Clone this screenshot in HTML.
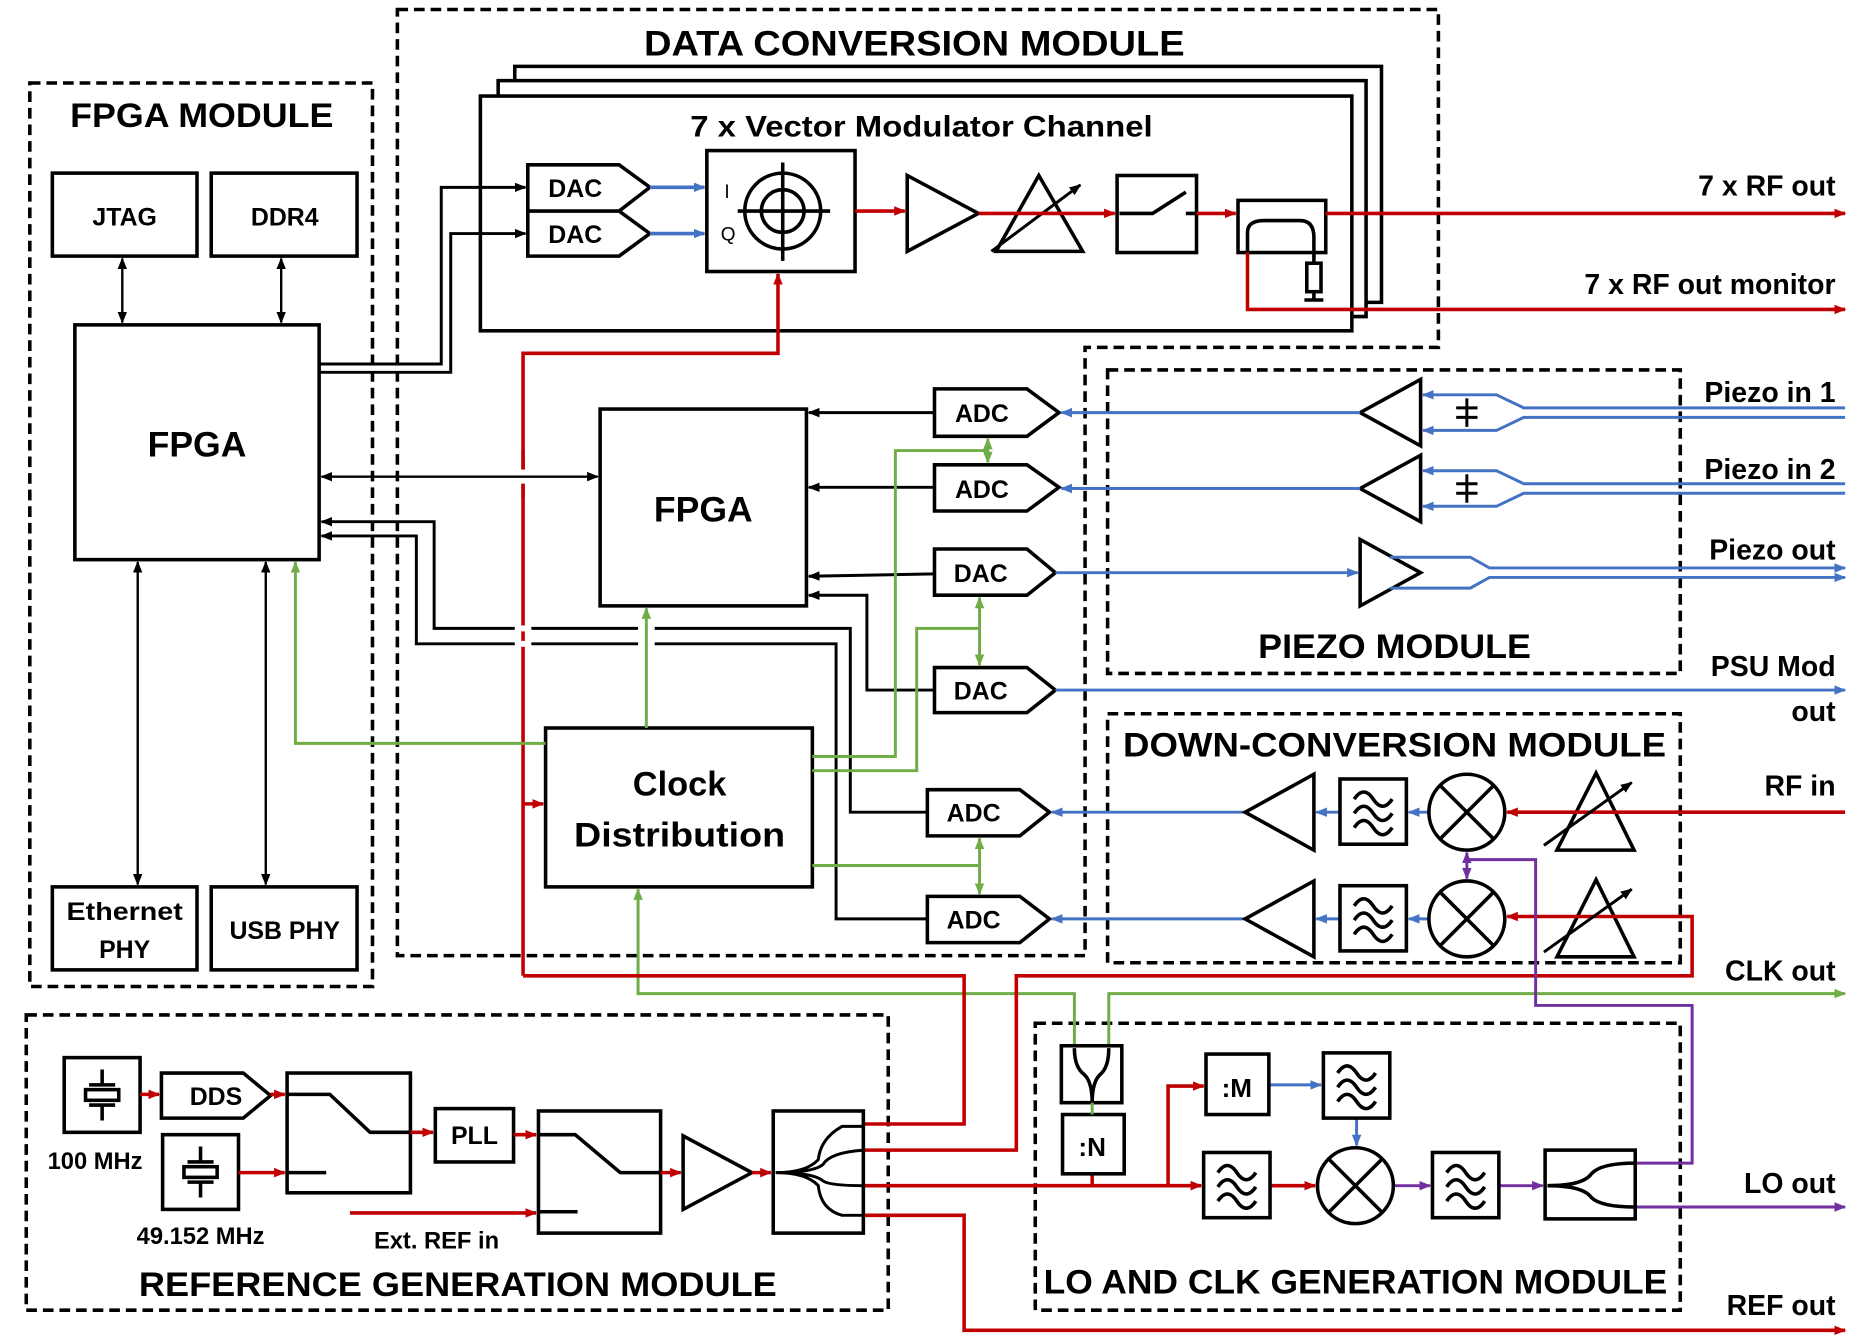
<!DOCTYPE html>
<html><head><meta charset="utf-8"><style>
html,body{margin:0;padding:0;background:#fff}
svg{display:block}
text{font-family:"Liberation Sans",sans-serif;font-weight:bold;fill:#000}
</style></head><body>
<svg width="1850" height="1341" viewBox="0 0 1560 1131" xmlns="http://www.w3.org/2000/svg">
<defs>
<marker id="ak" markerWidth="10" markerHeight="10" refX="9" refY="5" orient="auto-start-reverse" markerUnits="userSpaceOnUse"><path d="M0,1 L10,5 L0,9 z" fill="#000"/></marker>
<marker id="ar" markerWidth="10" markerHeight="10" refX="9" refY="5" orient="auto-start-reverse" markerUnits="userSpaceOnUse"><path d="M0,1 L10,5 L0,9 z" fill="#c00000"/></marker>
<marker id="ab" markerWidth="10" markerHeight="10" refX="9" refY="5" orient="auto-start-reverse" markerUnits="userSpaceOnUse"><path d="M0,1 L10,5 L0,9 z" fill="#4472c4"/></marker>
<marker id="ag" markerWidth="10" markerHeight="10" refX="9" refY="5" orient="auto-start-reverse" markerUnits="userSpaceOnUse"><path d="M0,1 L10,5 L0,9 z" fill="#70ad47"/></marker>
<marker id="ap" markerWidth="10" markerHeight="10" refX="9" refY="5" orient="auto-start-reverse" markerUnits="userSpaceOnUse"><path d="M0,1 L10,5 L0,9 z" fill="#7030a0"/></marker>
<g id="filt"><rect x="0" y="0" width="56" height="55" fill="#fff" stroke="#000" stroke-width="3"/>
<path d="M12,17 q8,-12 16,0 t16,0 M12,29 q8,-12 16,0 t16,0 M12,41 q8,-12 16,0 t16,0" fill="none" stroke="#000" stroke-width="3"/></g>
<g id="mix"><circle cx="0" cy="0" r="32" fill="#fff" stroke="#000" stroke-width="3"/><path d="M-22,-22 L22,22 M22,-22 L-22,22" stroke="#000" stroke-width="3"/></g>
<g id="xtal"><rect x="0" y="0" width="64" height="63" fill="#fff" stroke="#000" stroke-width="3"/><path d="M32,10 v13 M21,23 h22 M32,53 v-13 M21,40 h22" stroke="#000" stroke-width="3"/><rect x="18" y="27" width="28" height="9" fill="none" stroke="#000" stroke-width="3"/></g>
</defs>

<g fill="none" stroke-width="3">
<g stroke="#000" stroke-dasharray="9,5">
<rect x="25" y="70" width="289" height="762"/>
<path d="M335,8 H1213 V293 H915 V806 H335 Z"/>
<rect x="934" y="312" width="483" height="256"/>
<rect x="934" y="602" width="483" height="210"/>
<rect x="22" y="856" width="727" height="249"/>
<rect x="873" y="863" width="544" height="242"/>
</g>

<g stroke="#000">
<rect x="44" y="146" width="122" height="70"/>
<rect x="178" y="146" width="123" height="70"/>
<rect x="63" y="274" width="206" height="198"/>
<rect x="44" y="748" width="122" height="70"/>
<rect x="178" y="748" width="123" height="70"/>
<line x1="103" y1="218" x2="103" y2="272" marker-start="url(#ak)" marker-end="url(#ak)" stroke-width="2"/>
<line x1="237" y1="218" x2="237" y2="272" marker-start="url(#ak)" marker-end="url(#ak)" stroke-width="2"/>
<line x1="116" y1="474" x2="116" y2="746" marker-start="url(#ak)" marker-end="url(#ak)" stroke-width="2"/>
<line x1="224" y1="474" x2="224" y2="746" marker-start="url(#ak)" marker-end="url(#ak)" stroke-width="2"/>
</g>

<g stroke="#000">
<path d="M434,68 V56 H1165 V255 H1152"/>
<path d="M420,81 V68 H1152 V267 H1140"/>
<rect x="405" y="81" width="735" height="198" fill="#fff"/>
<path d="M445,139 H522 L548,158 L522,178 H445 Z M445,178 H522 L548,197 L522,216 H445 Z" fill="#fff"/>
<rect x="596" y="127" width="125" height="102"/>
<circle cx="660" cy="178" r="32"/><circle cx="660" cy="178" r="18"/>
<path d="M622,178 H700 M660,137 V220"/>
<path d="M765,148 V212 L825,180 Z"/>
<path d="M840,212 H913 L876,148 Z"/>
<line x1="836" y1="212" x2="911" y2="156" marker-end="url(#ak)" stroke-width="2.5"/>
<rect x="942" y="148" width="67" height="65"/>
<path d="M944,180 H972 L1000,162 M1000,180 H1009" />
<rect x="1044" y="169" width="74" height="44"/>
<path d="M1052,213 V196 Q1052,186 1066,186 H1096 Q1108,186 1108,200 V222"/>
<rect x="1102" y="222" width="12" height="24"/>
<path d="M1108,246 V252 M1100,253 H1116"/>
<path d="M269,307 H372 V158 H443" marker-end="url(#ak)" stroke-width="2.5"/>
<path d="M269,314 H380 V197 H443" marker-end="url(#ak)" stroke-width="2.5"/>
</g>
<g stroke="#4472c4"><line x1="548" y1="158" x2="594" y2="158" marker-end="url(#ab)"/><line x1="548" y1="197" x2="594" y2="197" marker-end="url(#ab)"/></g>
<g stroke="#c00000">
<line x1="721" y1="178" x2="763" y2="178" marker-end="url(#ar)"/>
<line x1="825" y1="180" x2="940" y2="180" marker-end="url(#ar)"/>
<line x1="1009" y1="180" x2="1042" y2="180" marker-end="url(#ar)"/>
<line x1="1118" y1="180" x2="1556" y2="180" marker-end="url(#ar)"/>
<path d="M1052,213 V261 H1556" marker-end="url(#ar)"/>
<path d="M441,823 V298 H656 V231" marker-end="url(#ar)"/>
<line x1="441" y1="678" x2="458" y2="678" marker-end="url(#ar)"/>
</g>

<g stroke="#000">
<rect x="506" y="345" width="174" height="166"/>
<rect x="460" y="614" width="225" height="134" fill="#fff"/>
<path d="M788,328 H866 L893,348 L866,368 H788 Z"/>
<path d="M788,392 H866 L893,411 L866,431 H788 Z"/>
<path d="M788,463 H866 L890,483 L866,502 H788 Z"/>
<path d="M788,563 H866 L890,582 L866,601 H788 Z"/>
<path d="M782,666 H860 L885,685 L860,705 H782 Z"/>
<path d="M782,756 H860 L885,775 L860,795 H782 Z"/>
<g stroke-width="2.5">
<line x1="788" y1="348" x2="682" y2="348" marker-end="url(#ak)"/>
<line x1="788" y1="411" x2="682" y2="411" marker-end="url(#ak)"/>
<line x1="788" y1="484" x2="682" y2="486" marker-end="url(#ak)"/>
<path d="M788,582 H731 V502 H682" marker-end="url(#ak)"/>
<path d="M782,685 H717 V530 H366 V440 H271" marker-end="url(#ak)"/>
<path d="M782,775 H705 V543 H351 V452 H271" marker-end="url(#ak)"/>
</g>
</g>
<g stroke="#fff" stroke-width="5">
<line x1="434" y1="530" x2="448" y2="530"/><line x1="434" y1="543" x2="448" y2="543"/>
<line x1="538" y1="530" x2="552" y2="530"/><line x1="538" y1="543" x2="552" y2="543"/>
<line x1="441" y1="396" x2="441" y2="408"/>
</g>
<line x1="441" y1="380" x2="441" y2="396" stroke="#c00000"/>
<line x1="441" y1="408" x2="441" y2="420" stroke="#c00000"/>
<line x1="271" y1="402" x2="504" y2="402" stroke="#000" marker-start="url(#ak)" marker-end="url(#ak)" stroke-width="2"/>

<g stroke="#70ad47" stroke-width="2.5">
<line x1="545" y1="614" x2="545" y2="513" marker-end="url(#ag)"/>
<path d="M460,627 H249 V474" marker-end="url(#ag)"/>
<path d="M685,638 H755 V380 H833"/>
<line x1="833" y1="370" x2="833" y2="390" marker-start="url(#ag)" marker-end="url(#ag)"/>
<path d="M685,650 H773 V530 H826"/>
<line x1="826" y1="504" x2="826" y2="561" marker-start="url(#ag)" marker-end="url(#ag)"/>
<path d="M685,730 H826"/>
<line x1="826" y1="707" x2="826" y2="754" marker-start="url(#ag)" marker-end="url(#ag)"/>
<path d="M538,750 V838 H906 V882" marker-start="url(#ag)"/>
<path d="M935,882 V838 H1556" marker-end="url(#ag)"/>
</g>

<g stroke="#000">
<path d="M1198,320 V376 L1147,348 Z"/>
<path d="M1198,384 V440 L1147,412 Z"/>
<path d="M1147,455 V511 L1198,483 Z"/>
<path d="M1237,336 V360 M1228,344 H1246 M1228,352 H1246 M1237,400 V424 M1228,408 H1246 M1228,416 H1246" stroke-width="2.5"/>
</g>
<g stroke="#4472c4" stroke-width="2.5">
<path d="M1556,344 H1285 L1262,333 H1200" marker-end="url(#ab)"/>
<path d="M1556,352 H1285 L1262,363 H1200" marker-end="url(#ab)"/>
<path d="M1556,408 H1285 L1262,397 H1200" marker-end="url(#ab)"/>
<path d="M1556,416 H1285 L1262,427 H1200" marker-end="url(#ab)"/>
<line x1="1147" y1="348" x2="895" y2="348" marker-end="url(#ab)"/>
<line x1="1147" y1="412" x2="895" y2="412" marker-end="url(#ab)"/>
<line x1="890" y1="483" x2="1145" y2="483" marker-end="url(#ab)"/>
<path d="M1172,470 H1240 L1256,479 H1556" marker-end="url(#ab)"/>
<path d="M1172,496 H1240 L1256,487 H1556" marker-end="url(#ab)"/>
<line x1="890" y1="582" x2="1556" y2="582" marker-end="url(#ab)"/>
<line x1="1050" y1="685" x2="887" y2="685" marker-end="url(#ab)"/>
<line x1="1050" y1="775" x2="887" y2="775" marker-end="url(#ab)"/>
<line x1="1130" y1="685" x2="1110" y2="685" marker-end="url(#ab)"/>
<line x1="1205" y1="685" x2="1188" y2="685" marker-end="url(#ab)"/>
<line x1="1130" y1="775" x2="1110" y2="775" marker-end="url(#ab)"/>
<line x1="1205" y1="775" x2="1188" y2="775" marker-end="url(#ab)"/>
<line x1="1070" y1="915" x2="1114" y2="915" marker-end="url(#ab)"/>
<line x1="1144" y1="943" x2="1144" y2="966" marker-end="url(#ab)"/>
</g>

<g stroke="#000">
<path d="M1108,653 V717 L1050,685 Z"/>
<path d="M1108,743 V807 L1050,775 Z"/>
<path d="M1313,717 H1378 L1346,652 Z"/>
<path d="M1313,807 H1378 L1346,742 Z"/>
</g>
<use href="#filt" x="1130" y="657"/><use href="#filt" x="1130" y="747"/>
<use href="#mix" x="1237" y="685"/><use href="#mix" x="1237" y="775"/>
<g stroke="#c00000">
<line x1="1556" y1="685" x2="1271" y2="685" marker-end="url(#ar)"/>
<path d="M441,823 H813 V948 H728"/>
<path d="M728,970 H857 V823 H1427 V773 H1271" marker-end="url(#ar)"/>
<path d="M728,1000 H1013" marker-end="url(#ar)"/>
<path d="M985,1000 V916 H1015" marker-end="url(#ar)"/>
<path d="M921,990 V1000"/>
<line x1="1072" y1="1000" x2="1109" y2="1000" marker-end="url(#ar)"/>
<path d="M728,1025 H813 V1122 H1556" marker-end="url(#ar)"/>
</g>
<g stroke="#000" stroke-width="2.5">
<line x1="1302" y1="713" x2="1376" y2="660" marker-end="url(#ak)"/>
<line x1="1302" y1="803" x2="1376" y2="750" marker-end="url(#ak)"/>
</g>
<g stroke="#7030a0" stroke-width="2.5">
<path d="M1379,981 H1427 V848 H1295 V725 H1237"/>
<line x1="1237" y1="725" x2="1237" y2="719" marker-end="url(#ap)"/>
<line x1="1237" y1="725" x2="1237" y2="741" marker-end="url(#ap)"/>
<line x1="1175" y1="1000" x2="1206" y2="1000" marker-end="url(#ap)"/>
<line x1="1265" y1="1000" x2="1301" y2="1000" marker-end="url(#ap)"/>
<path d="M1379,1018 H1556" marker-end="url(#ap)"/>
</g>

<g stroke="#000">
<rect x="895" y="882" width="51" height="48"/>
<path d="M906,884 Q906,900 914,906 Q921,912 921,930 M935,884 Q935,900 928,906 Q921,912 921,930"/>
<rect x="896" y="940" width="52" height="50"/>
<rect x="1017" y="889" width="53" height="51"/>
<rect x="1303" y="970" width="76" height="58"/>
<path d="M1305,1000 Q1335,1000 1342,990 Q1350,981 1379,981 M1305,1000 Q1335,1000 1342,1010 Q1350,1018 1379,1018"/>
</g>
<line x1="921" y1="930" x2="921" y2="940" stroke="#70ad47" stroke-width="2.5"/>
<use href="#filt" x="1116" y="888"/><use href="#filt" x="1015" y="972"/><use href="#filt" x="1208" y="972"/>
<use href="#mix" x="1143" y="1000"/>

<use href="#xtal" x="54" y="892"/><use href="#xtal" x="137" y="957"/>
<g stroke="#000">
<path d="M136,905 H205 L228,924 L205,943 H136 Z"/>
<rect x="242" y="905" width="104" height="101"/>
<path d="M242,923 H278 L312,955 H346 M242,989 H275"/>
<rect x="367" y="935" width="66" height="45"/>
<rect x="454" y="937" width="103" height="103"/>
<path d="M454,957 H485 L523,989 H557 M454,1022 H487"/>
<path d="M576,958 V1020 L634,989 Z"/>
<rect x="652" y="937" width="76" height="103"/>
<path d="M654,989 Q680,989 690,978 Q692,960 710,950 H728 M654,989 Q686,989 694,982 Q700,972 728,970 M654,989 Q686,989 694,996 Q700,1000 728,1000 M654,989 Q680,989 690,1000 Q692,1020 710,1025 H728" stroke-width="2.5"/>
</g>
<g stroke="#c00000">
<line x1="118" y1="923" x2="134" y2="923" marker-end="url(#ar)"/>
<line x1="228" y1="923" x2="240" y2="923" marker-end="url(#ar)"/>
<line x1="201" y1="989" x2="240" y2="989" marker-end="url(#ar)"/>
<line x1="346" y1="955" x2="365" y2="955" marker-end="url(#ar)"/>
<line x1="433" y1="957" x2="452" y2="957" marker-end="url(#ar)"/>
<line x1="295" y1="1023" x2="452" y2="1023" marker-end="url(#ar)"/>
<line x1="557" y1="989" x2="574" y2="989" marker-end="url(#ar)"/>
<line x1="634" y1="989" x2="650" y2="989" marker-end="url(#ar)"/>
</g>
</g>

<text x="170" y="107" font-size="29" text-anchor="middle" textLength="222" lengthAdjust="spacingAndGlyphs">FPGA MODULE</text>
<text x="105" y="190" font-size="21" text-anchor="middle">JTAG</text>
<text x="240" y="190" font-size="21" text-anchor="middle">DDR4</text>
<text x="166" y="385" font-size="30" text-anchor="middle">FPGA</text>
<text x="105" y="776" font-size="21" text-anchor="middle" textLength="98" lengthAdjust="spacingAndGlyphs">Ethernet</text>
<text x="105" y="808" font-size="21" text-anchor="middle">PHY</text>
<text x="240" y="792" font-size="21" text-anchor="middle">USB PHY</text>
<text x="771" y="47" font-size="30" text-anchor="middle" textLength="456" lengthAdjust="spacingAndGlyphs">DATA CONVERSION MODULE</text>
<text x="777" y="115" font-size="25" text-anchor="middle" textLength="390" lengthAdjust="spacingAndGlyphs">7 x Vector Modulator Channel</text>
<text x="485" y="166" font-size="21" text-anchor="middle">DAC</text>
<text x="485" y="205" font-size="21" text-anchor="middle">DAC</text>
<text x="613" y="167" font-size="16" style="font-weight:normal" text-anchor="middle">I</text>
<text x="614" y="203" font-size="16" style="font-weight:normal" text-anchor="middle">Q</text>
<text x="593" y="440" font-size="30" text-anchor="middle">FPGA</text>
<text x="828" y="356" font-size="21" text-anchor="middle">ADC</text>
<text x="828" y="420" font-size="21" text-anchor="middle">ADC</text>
<text x="827" y="491" font-size="21" text-anchor="middle">DAC</text>
<text x="827" y="590" font-size="21" text-anchor="middle">DAC</text>
<text x="821" y="693" font-size="21" text-anchor="middle">ADC</text>
<text x="821" y="783" font-size="21" text-anchor="middle">ADC</text>
<text x="573" y="671" font-size="29" text-anchor="middle">Clock</text>
<text x="573" y="714" font-size="29" text-anchor="middle" textLength="178" lengthAdjust="spacingAndGlyphs">Distribution</text>
<text x="1176" y="555" font-size="29" text-anchor="middle" textLength="230" lengthAdjust="spacingAndGlyphs">PIEZO MODULE</text>
<text x="1176" y="638" font-size="29" text-anchor="middle" textLength="458" lengthAdjust="spacingAndGlyphs">DOWN-CONVERSION MODULE</text>
<text x="1143" y="1091" font-size="29" text-anchor="middle" textLength="526" lengthAdjust="spacingAndGlyphs">LO AND CLK GENERATION MODULE</text>
<text x="386" y="1093" font-size="29" text-anchor="middle" textLength="538" lengthAdjust="spacingAndGlyphs">REFERENCE GENERATION MODULE</text>
<text x="182" y="932" font-size="21" text-anchor="middle">DDS</text>
<text x="400" y="965" font-size="21" text-anchor="middle">PLL</text>
<text x="80" y="986" font-size="20" text-anchor="middle">100 MHz</text>
<text x="169" y="1049" font-size="20" text-anchor="middle">49.152 MHz</text>
<text x="368" y="1053" font-size="20" text-anchor="middle">Ext. REF in</text>
<text x="1043" y="925" font-size="22" text-anchor="middle">:M</text>
<text x="921" y="975" font-size="22" text-anchor="middle">:N</text>
<g font-size="24" text-anchor="end">
<text x="1548" y="165">7 x RF out</text>
<text x="1548" y="248">7 x RF out monitor</text>
<text x="1548" y="339">Piezo in 1</text>
<text x="1548" y="404">Piezo in 2</text>
<text x="1548" y="472">Piezo out</text>
<text x="1548" y="570">PSU Mod</text>
<text x="1548" y="608">out</text>
<text x="1548" y="671">RF in</text>
<text x="1548" y="827">CLK out</text>
<text x="1548" y="1006">LO out</text>
<text x="1548" y="1109">REF out</text>
</g>
</svg>
</body></html>
